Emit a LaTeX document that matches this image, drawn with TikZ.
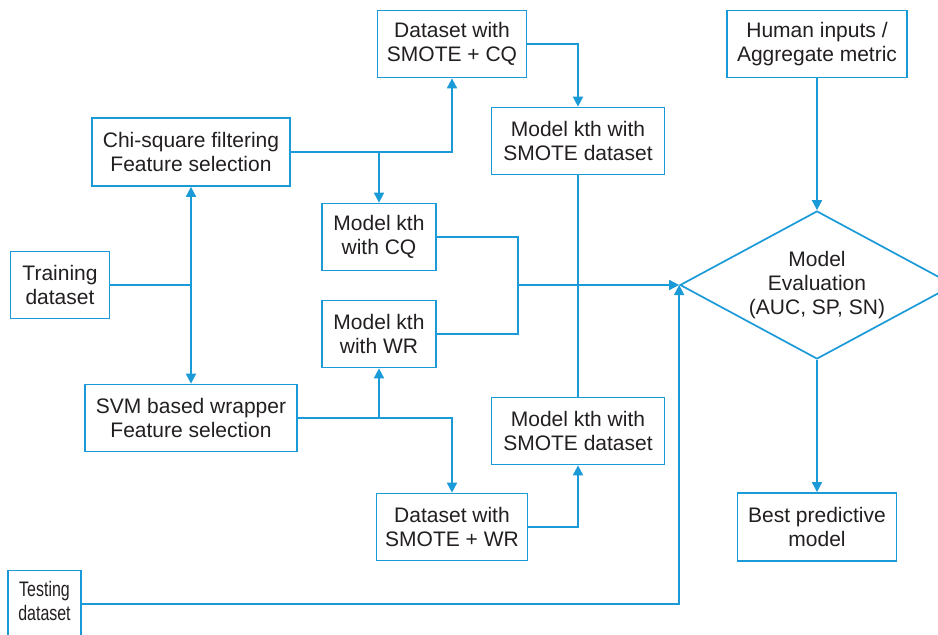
\documentclass[tikz,border=0pt]{standalone}
\usepackage{fontspec}
\setmainfont{Liberation Sans}
\usetikzlibrary{shapes.geometric,arrows.meta}
\definecolor{lb}{HTML}{1A9AD6}
\definecolor{tx}{HTML}{231F20}
\begin{document}
\begin{tikzpicture}[x=1pt,y=-1pt,
 txt/.style={align=center,inner sep=0pt,text=tx,font=\fontsize{21}{24}\selectfont},
 box/.style={txt,draw=lb,line width=1.7pt,fill=white},
 conn/.style={draw=lb,line width=1.7pt},
 arr/.style={conn,-{Triangle[length=10pt,width=10pt]}}]
\useasboundingbox (0,0) rectangle (938,635);
% nodes
\node[box,minimum width=149pt,minimum height=67pt] (dcq) at (452,44) {Dataset with\\SMOTE + CQ};
\node[box,minimum width=180pt,minimum height=67pt] (hum) at (817,44) {Human inputs /\\Aggregate metric};
\node[box,minimum width=173pt,minimum height=67pt] (ms1) at (578,141) {Model kth with\\SMOTE dataset};
\node[box,minimum width=198pt,minimum height=68pt] (chi) at (191,152) {Chi-square filtering\\Feature selection};
\node[box,minimum width=114pt,minimum height=67pt] (mcq) at (379,237) {Model kth\\with CQ};
\node[box,minimum width=99pt,minimum height=67pt] (trn) at (60,285) {Training\\dataset};
\node[diamond,draw=lb,line width=1.7pt,minimum width=274pt,minimum height=148pt,aspect=1.85,inner sep=0pt] (ev) at (817,285) {};
\node[txt] (evt) at (ev.center) {Model\\Evaluation\\(AUC, SP, SN)};
\node[box,minimum width=114pt,minimum height=67pt] (mwr) at (379,334) {Model kth\\with WR};
\node[box,minimum width=212pt,minimum height=67pt] (svm) at (191,418) {SVM based wrapper\\Feature selection};
\node[box,minimum width=173pt,minimum height=67pt] (ms2) at (578,431) {Model kth with\\SMOTE dataset};
\node[box,minimum width=151pt,minimum height=67pt] (dwr) at (452,527) {Dataset with\\SMOTE + WR};
\node[box,minimum width=159pt,minimum height=68pt] (best) at (817,527) {Best predictive\\model};
\node[box,minimum width=73pt,minimum height=67pt] (tst) at (44.5,604) {\scalebox{0.76}[1]{\begin{tabular}{@{}c@{}}Testing\\dataset\end{tabular}}};
\coordinate (jm) at (518,285);
% connectors
\draw[conn] (trn.east) -- (trn.east -| chi.south) coordinate (jt);
\draw[arr] (jt) -- (chi.south);
\draw[arr] (jt) -- (svm.north);
\draw[arr] (chi.east) -| (dcq.south);
\draw[arr] (chi.east -| mcq.north) -- (mcq.north);
\draw[arr] (dcq.east) -| (ms1.north);
\draw[conn] (ms1.south) -- (ms2.north);
\draw[conn] (mcq.east) -| (jm) |- (mwr.east);
\draw[arr] (jm) -- (ev.west);
\draw[conn] (svm.east) -- (svm.east -| mwr.south) coordinate (js);
\draw[arr] (js) -- (mwr.south);
\draw[arr] (svm.east) -| (dwr.north);
\draw[arr] (dwr.east) -| (ms2.south);
\draw[arr] (tst.east) -| (ev.west);
\draw[arr] (hum.south) -- (ev.north);
\draw[arr] (ev.south) -- (best.north);
\end{tikzpicture}
\end{document}
